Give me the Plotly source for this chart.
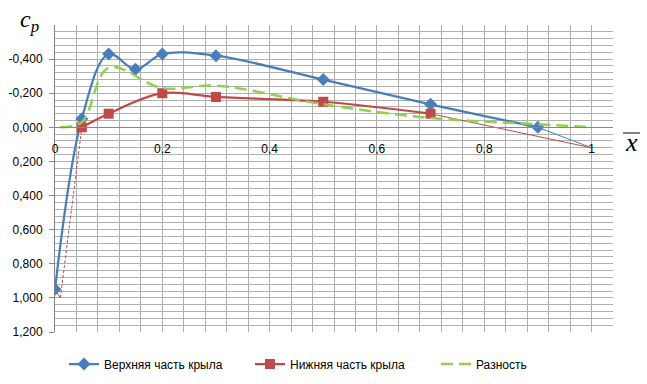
import plotly.graph_objects as go

# ---- data ----
x_upper = [0.0, 0.05, 0.10, 0.15, 0.20, 0.30, 0.50, 0.70, 0.90]
cp_upper = [0.95, -0.05, -0.43, -0.34, -0.43, -0.42, -0.28, -0.135, 0.0]

x_lower = [0.05, 0.10, 0.20, 0.30, 0.50, 0.70]
cp_lower = [0.0, -0.08, -0.20, -0.178, -0.15, -0.08]

x_diff = [0.01, 0.05, 0.10, 0.20, 0.30, 0.50, 0.70, 0.90, 1.00]
cp_diff = [0.0, -0.03, -0.35, -0.23, -0.245, -0.135, -0.055, -0.018, 0.0]

# thin edge segments
x_up_le = [0.0, 0.01]
cp_up_le = [0.95, 1.0]
x_lo_le = [0.01, 0.05]
cp_lo_le = [1.0, 0.0]
x_up_te = [0.90, 1.00]
cp_up_te = [0.0, 0.12]
x_lo_te = [0.70, 1.00]
cp_lo_te = [-0.08, 0.12]

names = ["Верхняя часть крыла", "Нижняя часть крыла", "Разность"]

y_tickvals = [-0.4, -0.2, 0.0, 0.2, 0.4, 0.6, 0.8, 1.0, 1.2]
y_ticktext = ["-0,400", "-0,200", "0,000", "0,200", "0,400", "0,600", "0,800", "1,000", "1,200"]
x_tickvals = [0, 0.2, 0.4, 0.6, 0.8, 1.0]
x_ticktext = ["0", "0,2", "0,4", "0,6", "0,8", "1"]

BLUE = "#4A7EBB"
RED = "#BE4B48"
GREEN = "#92D050"
GRID = "#B0B0B0"
AXIS = "#868686"

fig = go.Figure()

# thin edge segments (no legend)
fig.add_trace(go.Scatter(x=x_up_le, y=cp_up_le, mode="lines", line=dict(color=BLUE, width=1),
                         showlegend=False, hoverinfo="skip"))
fig.add_trace(go.Scatter(x=x_up_te, y=cp_up_te, mode="lines", line=dict(color=BLUE, width=1),
                         showlegend=False, hoverinfo="skip"))
fig.add_trace(go.Scatter(x=x_lo_le, y=cp_lo_le, mode="lines", line=dict(color=RED, width=1, dash="3px,2px"),
                         showlegend=False, hoverinfo="skip"))
fig.add_trace(go.Scatter(x=x_lo_te, y=cp_lo_te, mode="lines", line=dict(color=RED, width=1),
                         showlegend=False, hoverinfo="skip"))

fig.add_trace(go.Scatter(x=x_upper, y=cp_upper, name=names[0], mode="lines+markers",
                         line=dict(color=BLUE, width=2.25, shape="spline", smoothing=1),
                         marker=dict(symbol="diamond", size=10, color=BLUE)))
fig.add_trace(go.Scatter(x=x_lower, y=cp_lower, name=names[1], mode="lines+markers",
                         line=dict(color=RED, width=2.25, shape="spline", smoothing=1),
                         marker=dict(symbol="square", size=10, color=RED)))
fig.add_trace(go.Scatter(x=x_diff, y=cp_diff, name=names[2], mode="lines",
                         line=dict(color=GREEN, width=2.5, shape="spline", smoothing=1, dash="12px,6px")))

W, H = 647, 384
L, R, T, B = 55, 34, 25, 52
pw, ph = W - L - R, H - T - B


def px_x(p):
    return (p - L) / pw


def px_y(p):
    return (H - B - p) / ph


y_min, y_max = -0.6, 1.2
zero_pos = (y_max - 0.0) / (y_max - y_min)

fig.update_layout(
    width=W, height=H, autosize=False,
    margin=dict(l=L, r=R, t=T, b=B, autoexpand=False),
    paper_bgcolor="white", plot_bgcolor="white",
    font=dict(family="Liberation Sans, Arial, sans-serif", size=12, color="#000000"),
    xaxis=dict(
        range=[0, 1.04], tickmode="array", tickvals=x_tickvals, ticktext=x_ticktext,
        showgrid=True, gridcolor=GRID, gridwidth=1,
        minor=dict(tickmode="linear", tick0=0, dtick=0.04, showgrid=True, gridcolor=GRID, gridwidth=1),
        anchor="free", position=zero_pos, showline=True, linecolor=AXIS, linewidth=1,
        ticks="", ticklabelstandoff=10, zeroline=False,
        tickfont=dict(size=12, color="#000000"),
    ),
    yaxis=dict(
        range=[y_max, y_min], tickmode="array", tickvals=y_tickvals, ticktext=y_ticktext,
        showgrid=True, gridcolor=GRID, gridwidth=1,
        minor=dict(tickmode="linear", tick0=0, dtick=0.04, showgrid=True, gridcolor=GRID, gridwidth=1),
        showline=True, linecolor=AXIS, linewidth=1, ticks="outside", ticklen=5, tickcolor=AXIS,
        ticklabelstandoff=4,
        zeroline=False, tickfont=dict(size=12, color="#000000"),
    ),
    legend=dict(orientation="h", xref="container", yref="container",
                x=64 / W, xanchor="left", y=(H - 364) / H, yanchor="middle",
                font=dict(size=12, color="#000000"), entrywidth=141, bgcolor="rgba(0,0,0,0)"),
    annotations=[
        dict(text="<i>c</i><sub><i>p</i></sub>", xref="paper", yref="paper",
             x=px_x(18), y=px_y(4), xanchor="left", yanchor="top", showarrow=False,
             font=dict(family="Liberation Serif, Times New Roman, serif", size=24, color="#000000")),
        dict(text="<i>x</i>", xref="paper", yref="paper",
             x=px_x(631), y=px_y(142), xanchor="center", yanchor="middle", showarrow=False,
             font=dict(family="Liberation Serif, Times New Roman, serif", size=26, color="#000000")),
    ],
    shapes=[
        dict(type="line", xref="paper", yref="paper", x0=px_x(623), x1=px_x(640),
             y0=px_y(133), y1=px_y(133), line=dict(color="#000000", width=1)),
    ],
)

fig.write_html("out.html")
